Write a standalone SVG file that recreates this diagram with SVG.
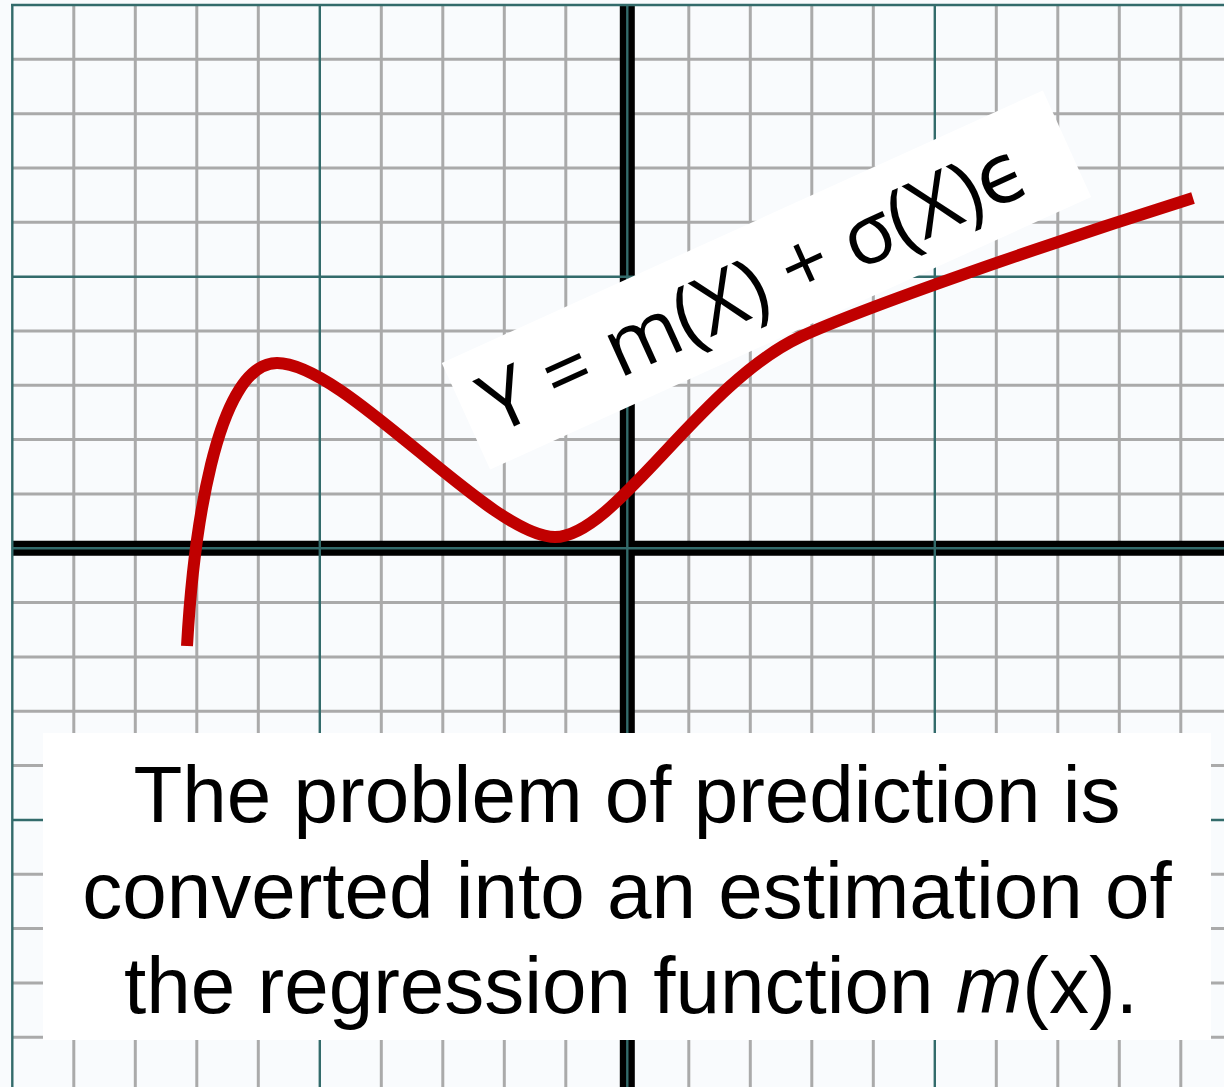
<svg xmlns="http://www.w3.org/2000/svg" width="1224" height="1087" viewBox="0 0 1224 1087">
  <style>
    .minor { stroke: #AAAAAA; stroke-width: 3; fill: none; }
    .major { stroke: #336B6B; stroke-width: 2.4; fill: none; }
    .axis { stroke: #000000; stroke-width: 15; fill: none; }
    .curve { stroke: #C00000; stroke-width: 12; fill: none; stroke-linecap: butt; }
    .box { fill: #FFFFFF; }
    .eq { font-family: "Open Sans", "DejaVu Sans", sans-serif; font-size: 82px; fill: #000; }
    .cap { font-family: "Liberation Sans", Arial, sans-serif; font-size: 80px; fill: #000; text-anchor: middle; }
  </style>
  <rect x="0" y="0" width="1224" height="1087" fill="#F9FBFD"/>
  <g id="grid">
    <path class="minor" d="M73.8 5V1087M135.3 5V1087M196.8 5V1087M258.3 5V1087M381.3 5V1087M442.8 5V1087M504.3 5V1087M565.8 5V1087M688.8 5V1087M750.3 5V1087M811.8 5V1087M873.3 5V1087M996.3 5V1087M1057.8 5V1087M1119.3 5V1087M1180.8 5V1087"/>
    <path class="minor" d="M12 59.3H1224M12 113.7H1224M12 168H1224M12 222.3H1224M12 331H1224M12 385.3H1224M12 439.6H1224M12 494H1224M12 602.6H1224M12 657H1224M12 711.3H1224M12 765.6H1224M12 874.3H1224M12 928.6H1224M12 983H1224M12 1037.3H1224"/>
    <path class="axis" d="M627.3 5V1087M12 548.3H1224"/>
    <path class="major" d="M12.3 4V1087M319.8 5V1087M627.3 5V1087M934.8 5V1087M11 5H1224M12 276.7H1224M12 548.3H1224M12 820H1224"/>
  </g>
  <g id="curve">
    <path class="curve" d="M187,646 C193,540 215,363 277,363 C345,363 490,537 555,537 C615,537 700,384 800,337 C865,307 1050,243 1193,198"/>
  </g>
  <g id="equation-label" transform="translate(766.5,280) rotate(-24.4)">
    <rect class="box" x="-330" y="-58.5" width="660" height="117"/>
    <text class="eq" x="-14" y="29" text-anchor="middle" textLength="592" lengthAdjust="spacing">Y = m(X) + σ(X)ϵ</text>
  </g>
  <g id="caption">
    <rect class="box" x="43" y="733" width="1168" height="307"/>
    <text class="cap" x="627" y="822">The problem of prediction is</text>
    <text class="cap" x="627" y="917.5">converted into an estimation of</text>
    <text class="cap" x="631" y="1013">the regression function <tspan font-style="italic">m</tspan>(x).</text>
  </g>
</svg>
